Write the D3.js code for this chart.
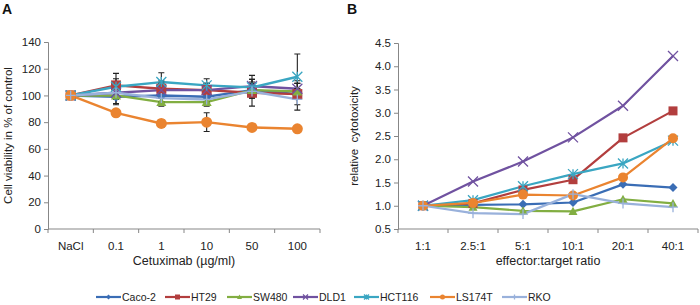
<!DOCTYPE html>
<html><head><meta charset="utf-8">
<script src="https://cdn.jsdelivr.net/npm/d3@7"></script>
<style>body{margin:0;background:#fff}svg{display:block;font-family:"Liberation Sans",Arial,sans-serif}</style>
</head><body><svg id="c" width="700" height="305"></svg>
<script>
const seriesNames = ["Caco-2","HT29","SW480","DLD1","HCT116","LS174T","RKO"];
const seriesColors = ["#3A6DB5","#B23E3E","#82AE42","#7052A0","#3AA6C2","#EA8430","#99B1DB"];
const seriesShapes = ["diamond","square","triangle","x","star","circle","plus"];

const doseLabels = ["NaCl","0.1","1","10","50","100"];
const viabilityA = [
  [100, 99, 100, 99, 104, 101],
  [100, 107.5, 105, 104, 102, 101],
  [100, 100, 95, 95, 104, 103],
  [100, 102, 104, 104, 107, 105],
  [100, 106.5, 110, 107.5, 106, 114],
  [100, 87, 79, 80, 76, 75],
  [100, 102, 98, 97, 103, 97]
];
const errorA = [
  [0, 6, 5, 4, 5, 4],
  [0, 9, 6, 5, 10, 8],
  [0, 6, 3, 3, 6, 6],
  [0, 5, 5, 5, 8, 6],
  [0, 6, 7, 5, 6, 17],
  [0, 1, 3, 7, 1, 1],
  [0, 4, 5, 4, 5, 8]
];
const yTicksA = [0,20,40,60,80,100,120,140];

const ratioLabels = ["1:1","2.5:1","5:1","10:1","20:1","40:1"];
const cytoB = [
  [1.0, 1.02, 1.03, 1.07, 1.46, 1.39],
  [1.0, 1.05, 1.34, 1.56, 2.46, 3.04],
  [1.0, 0.97, 0.89, 0.88, 1.14, 1.05],
  [1.0, 1.52, 1.95, 2.47, 3.15, 4.22],
  [1.0, 1.12, 1.42, 1.68, 1.91, 2.40],
  [1.0, 1.06, 1.24, 1.22, 1.61, 2.45],
  [1.0, 0.84, 0.82, 1.25, 1.05, 0.97]
];
const yTicksB = [0.5,1.0,1.5,2.0,2.5,3.0,3.5,4.0,4.5];

const svg = d3.select("#c");
const axisColor = "#878787";

function marker(g, shape, x, y, s, color){
  const h = s/2;
  if(shape==="circle") g.append("circle").attr("cx",x).attr("cy",y).attr("r",h).attr("fill",color);
  else if(shape==="square") g.append("rect").attr("x",x-h).attr("y",y-h).attr("width",s).attr("height",s).attr("fill",color);
  else if(shape==="diamond") g.append("path").attr("d",`M${x},${y-h}L${x+h},${y}L${x},${y+h}L${x-h},${y}Z`).attr("fill",color);
  else if(shape==="triangle") g.append("path").attr("d",`M${x},${y-h}L${x+h},${y+h*0.8}L${x-h},${y+h*0.8}Z`).attr("fill",color);
  else if(shape==="x") g.append("path").attr("d",`M${x-h},${y-h}L${x+h},${y+h}M${x-h},${y+h}L${x+h},${y-h}`).attr("stroke",color).attr("stroke-width",1.3).attr("fill","none");
  else if(shape==="star") g.append("path").attr("d",`M${x-h},${y-h}L${x+h},${y+h}M${x-h},${y+h}L${x+h},${y-h}M${x},${y-h}L${x},${y+h}`).attr("stroke",color).attr("stroke-width",1.3).attr("fill","none");
  else if(shape==="plus") g.append("path").attr("d",`M${x-h},${y}L${x+h},${y}M${x},${y-h}L${x},${y+h}`).attr("stroke",color).attr("stroke-width",1.3).attr("fill","none");
}

function panel(opts){
  const g = svg.append("g");
  const x = d3.scaleBand().domain(opts.cats).range([opts.x0, opts.x1]).padding(0);
  const y = d3.scaleLinear().domain(opts.ydom).range([opts.y0, opts.y1]);
  const ya = g.append("g").attr("transform",`translate(${opts.x0},0)`)
    .call(d3.axisLeft(y).tickValues(opts.yticks).tickSize(4).tickFormat(opts.fmt));
  ya.select(".domain").attr("stroke",axisColor).attr("stroke-width",1);
  ya.selectAll(".tick line").attr("stroke",axisColor);
  ya.selectAll(".tick text").attr("fill","#222").attr("font-size",11.5).attr("font-family","Liberation Sans, Arial, sans-serif").attr("x",-7);
  const xa = g.append("g").attr("transform",`translate(0,${opts.y0})`)
    .call(d3.axisBottom(x).tickSize(0).tickPadding(13));
  xa.select(".domain").attr("stroke",axisColor).attr("d",`M${opts.x0},0H${opts.x1}`);
  xa.selectAll(".tick text").attr("fill","#222").attr("font-size",11.5).attr("font-family","Liberation Sans, Arial, sans-serif");
  const bounds = opts.cats.map(c=>x(c)).concat([x(opts.cats[opts.cats.length-1])+x.bandwidth()]);
  g.selectAll(".bt").data(bounds).join("line").attr("x1",d=>d).attr("x2",d=>d)
    .attr("y1",opts.y0).attr("y2",opts.y0+4).attr("stroke",axisColor);
  g.append("text").attr("x",(opts.x0+opts.x1)/2).attr("y",opts.y0+36).attr("text-anchor","middle")
    .attr("font-size",12.5).attr("fill","#222").text(opts.xlabel);
  g.append("text").attr("transform",`translate(${opts.ylx},${(opts.y0+opts.y1)/2}) rotate(-90)`)
    .attr("text-anchor","middle").attr("font-size",11.5).attr("fill","#222").style("white-space","pre").text(opts.ylabel);
  g.append("text").attr("x",opts.lx).attr("y",14).attr("font-size",14).attr("font-weight","bold").attr("fill","#111").text(opts.letter);
  const cx = c=>x(c)+x.bandwidth()/2;
  opts.data.forEach((vals,i)=>{
    const line = d3.line().x((d,j)=>cx(opts.cats[j])).y(d=>y(d));
    g.append("path").datum(vals).attr("d",line).attr("fill","none").attr("stroke",seriesColors[i])
      .attr("stroke-width",opts.lw).attr("stroke-linejoin","round");
  });
  if(opts.err){
    opts.data.forEach((vals,i)=>{
      vals.forEach((v,j)=>{
        const e = opts.err[i][j]; if(!e) return;
        const xx = cx(opts.cats[j]);
        g.append("path").attr("d",`M${xx},${y(v+e)}V${y(v-e)}M${xx-3},${y(v+e)}H${xx+3}M${xx-3},${y(v-e)}H${xx+3}`)
          .attr("stroke","#222").attr("stroke-width",1.1).attr("fill","none");
      });
    });
  }
  opts.data.forEach((vals,i)=>{
    vals.forEach((v,j)=>marker(g, seriesShapes[i], cx(opts.cats[j]), y(v), opts.ms[i], seriesColors[i]));
  });
}

panel({cats:doseLabels, x0:48, x1:320, y0:229, y1:42, ydom:[0,140], yticks:yTicksA, fmt:d3.format("d"),
  data:viabilityA, err:errorA, lw:2.4, ms:[10,10,10,10,10,11,10], xlabel:"Cetuximab (µg/ml)",
  ylabel:"Cell viability in % of control", ylx:12, lx:2, letter:"A"});
panel({cats:ratioLabels, x0:398, x1:698, y0:229, y1:43, ydom:[0.5,4.5], yticks:yTicksB, fmt:d3.format(".1f"),
  data:cytoB, err:null, lw:2.2, ms:[9,9,9,10,10,10,10], xlabel:"effector:target ratio",
  ylabel:"relative  cytotoxicity", ylx:358, lx:347, letter:"B"});

const legX = [96,165,227,293,354,430,502];
const lg = svg.append("g");
seriesNames.forEach((n,i)=>{
  const x0 = legX[i];
  lg.append("line").attr("x1",x0).attr("x2",x0+25).attr("y1",297).attr("y2",297).attr("stroke",seriesColors[i]).attr("stroke-width",2.2);
  marker(lg, seriesShapes[i], x0+12.5, 297, 5, seriesColors[i]);
  lg.append("text").attr("x",x0+26).attr("y",301).attr("font-size",10.5).attr("fill","#222").text(n);
});
</script></body></html>
